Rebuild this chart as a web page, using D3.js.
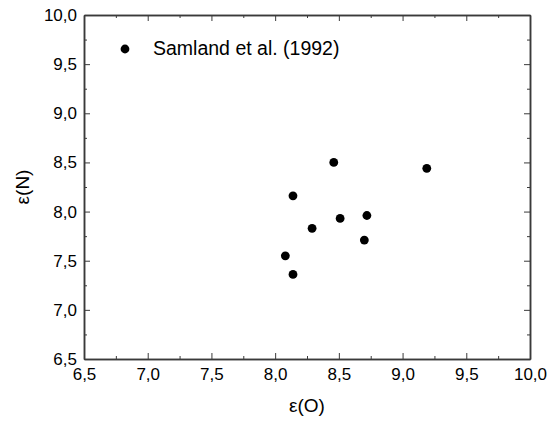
<!DOCTYPE html>
<html>
<head>
<meta charset="utf-8">
<script src="https://d3js.org/d3.v7.min.js"></script>
<style>
  body { margin: 0; background: #fff; }
  text { font-family: "Liberation Sans", Arial, sans-serif; fill: #000; }
</style>
</head>
<body>
<div id="chart"></div>
<script>
// data
const epsO = [8.46, 9.19, 8.14, 8.51, 8.72, 8.29, 8.70, 8.08, 8.14];
const epsN = [8.50, 8.44, 8.16, 7.93, 7.96, 7.83, 7.71, 7.55, 7.36];
const majorTicks = [6.5, 7.0, 7.5, 8.0, 8.5, 9.0, 9.5, 10.0];
const minorTicks = [6.75, 7.25, 7.75, 8.25, 8.75, 9.25, 9.75];
const legendLabel = 'Samland et al. (1992)';

const width = 553, height = 421;
const margin = { top: 15, right: 23, bottom: 62, left: 84 };
const w = width - margin.left - margin.right;
const h = height - margin.top - margin.bottom;

const svg = d3.select('#chart').append('svg')
  .attr('width', width)
  .attr('height', height);

const g = svg.append('g')
  .attr('transform', `translate(${margin.left},${margin.top})`);

const x = d3.scaleLinear().domain([6.5, 10]).range([0, w]);
const y = d3.scaleLinear().domain([6.5, 10]).range([h, 0]);

const fmt = d => d3.format('.1f')(d).replace('.', ',');
const axisColor = '#3a3a3a';

// axes with inward ticks on all four sides
function drawAxis(axis, tr, labels) {
  const a = g.append('g').attr('transform', tr).call(axis);
  a.select('.domain').attr('stroke', axisColor).attr('stroke-width', 1.5);
  a.selectAll('.tick line').attr('stroke', axisColor).attr('stroke-width', 1);
  a.selectAll('.tick text').style('font-size', '17px').attr('opacity', labels ? 1 : 0);
  return a;
}

drawAxis(d3.axisBottom(x).tickValues(majorTicks).tickFormat(fmt).tickSizeInner(-6).tickSizeOuter(0).tickPadding(9),
  `translate(0,${h})`, true);
drawAxis(d3.axisBottom(x).tickValues(minorTicks).tickFormat('').tickSizeInner(-3).tickSizeOuter(0),
  `translate(0,${h})`, false);
drawAxis(d3.axisTop(x).tickValues(majorTicks).tickFormat('').tickSizeInner(-6).tickSizeOuter(0),
  'translate(0,0)', false);
drawAxis(d3.axisTop(x).tickValues(minorTicks).tickFormat('').tickSizeInner(-3).tickSizeOuter(0),
  'translate(0,0)', false);
drawAxis(d3.axisLeft(y).tickValues(majorTicks).tickFormat(fmt).tickSizeInner(-6).tickSizeOuter(0).tickPadding(7),
  'translate(0,0)', true);
drawAxis(d3.axisLeft(y).tickValues(minorTicks).tickFormat('').tickSizeInner(-3).tickSizeOuter(0),
  'translate(0,0)', false);
drawAxis(d3.axisRight(y).tickValues(majorTicks).tickFormat('').tickSizeInner(-6).tickSizeOuter(0),
  `translate(${w},0)`, false);
drawAxis(d3.axisRight(y).tickValues(minorTicks).tickFormat('').tickSizeInner(-3).tickSizeOuter(0),
  `translate(${w},0)`, false);

// points
g.selectAll('.dot')
  .data(epsO.map((o, i) => ({ o, n: epsN[i] })))
  .enter()
  .append('circle')
  .attr('class', 'dot')
  .attr('cx', d => x(d.o))
  .attr('cy', d => y(d.n))
  .attr('r', 4.4)
  .attr('fill', '#000');

// legend
g.append('circle').attr('cx', 41).attr('cy', 34).attr('r', 4.4).attr('fill', '#000');
g.append('text').attr('x', 69).attr('y', 40).style('font-size', '19.5px').text(legendLabel);

// axis titles
svg.append('text')
  .attr('x', margin.left + w / 2)
  .attr('y', 412)
  .attr('text-anchor', 'middle')
  .style('font-size', '19px')
  .text('ε(O)');

svg.append('text')
  .attr('transform', `translate(29,${margin.top + h / 2}) rotate(-90)`)
  .attr('text-anchor', 'middle')
  .style('font-size', '19px')
  .text('ε(N)');
</script>
</body>
</html>
